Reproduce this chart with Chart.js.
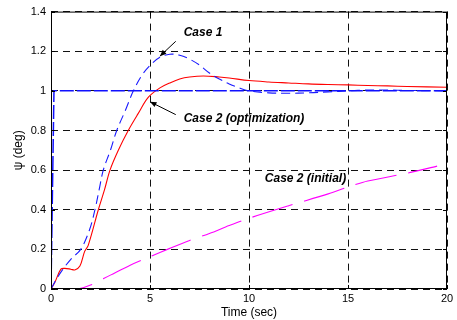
<!DOCTYPE html>
<html>
<head>
<meta charset="utf-8">
<script src="https://cdn.jsdelivr.net/npm/chart.js@4"></script>
<style>
  html, body { margin: 0; padding: 0; background: #fff; }
  #wrap { width: 457px; height: 320px; }
</style>
</head>
<body>
<div id="wrap"><canvas id="grafica" width="457" height="320"></canvas></div>
<script>
// valores
const tRef = [0, 0.15, 20];
const psiRef = [0, 1, 1];

const tCase1 = [0, 0.25, 0.57, 1.0, 1.5, 1.95, 2.22, 2.43, 2.64, 3.0, 3.32, 3.75, 4.16, 4.6, 5.08, 5.5, 6.0, 6.5, 7.0, 7.5, 8.0, 8.5, 9.0, 9.5, 10, 11, 12, 13, 14, 15, 16, 17, 18, 20];
const psiCase1 = [0, 0.045, 0.095, 0.15, 0.2, 0.3, 0.4, 0.5, 0.6, 0.7, 0.8, 0.9, 1.0, 1.08, 1.136, 1.17, 1.185, 1.18, 1.16, 1.13, 1.09, 1.06, 1.035, 1.015, 1.0, 0.99, 0.988, 0.99, 0.995, 1.0, 1.004, 1.004, 1.002, 1.0];

const tOpt = [0, 0.2, 0.5, 0.7, 1.0, 1.2, 1.46, 1.7, 1.88, 2.39, 2.7, 2.98, 3.4, 3.9, 4.4, 4.92, 5.5, 6.0, 6.5, 7.0, 7.7, 8.5, 9.0, 10, 11, 12, 13, 14, 15, 16, 17, 18, 20];
const psiOpt = [0, 0.035, 0.1, 0.104, 0.1, 0.096, 0.116, 0.19, 0.22, 0.4, 0.5, 0.6, 0.7, 0.8, 0.885, 0.968, 1.015, 1.04, 1.06, 1.07, 1.075, 1.07, 1.065, 1.052, 1.045, 1.04, 1.035, 1.032, 1.03, 1.027, 1.025, 1.022, 1.018];

const tIni = [0, 1.3, 2, 3, 4, 5, 6, 7, 8, 9, 10, 12, 14, 15, 16, 18, 19.5];
const psiIni = [0, 0, 0.02, 0.07, 0.12, 0.163, 0.205, 0.245, 0.28, 0.32, 0.357, 0.42, 0.48, 0.515, 0.545, 0.585, 0.62];

const xTicks = [0, 5, 10, 15, 20];
const yTicks = [0, 0.2, 0.4, 0.6, 0.8, 1, 1.2, 1.4];

const puntos = (xs, ys) => xs.map((x, i) => ({ x: x, y: ys[i] }));

// texto y flechas en coordenadas de datos
const notas = [
  { texto: 'Case 1', x: 6.7, y: 1.295, desde: [6.3, 1.25], hasta: [5.5, 1.175] },
  { texto: 'Case 2 (optimization)', x: 6.7, y: 0.861, desde: [6.3, 0.88], hasta: [5.0, 0.945] },
  { texto: 'Case 2 (initial)', x: 10.8, y: 0.555, desde: null, hasta: null }
];

const marcoYNotas = {
  id: 'marcoYNotas',
  afterDatasetsDraw(chart) {
    const { ctx, chartArea: a, scales } = chart;
    const sx = scales.x, sy = scales.y;
    ctx.save();
    // marco
    ctx.strokeStyle = '#000';
    ctx.lineWidth = 1;
    ctx.strokeRect(a.left + 0.5, a.top + 0.5, a.right - a.left - 1, a.bottom - a.top - 1);
    // marcas hacia dentro
    ctx.beginPath();
    xTicks.forEach(v => {
      const px = Math.round(sx.getPixelForValue(v)) + 0.5;
      ctx.moveTo(px, a.bottom); ctx.lineTo(px, a.bottom - 4);
      ctx.moveTo(px, a.top); ctx.lineTo(px, a.top + 4);
    });
    yTicks.forEach(v => {
      const py = Math.round(sy.getPixelForValue(v)) + 0.5;
      ctx.moveTo(a.left, py); ctx.lineTo(a.left + 4, py);
      ctx.moveTo(a.right, py); ctx.lineTo(a.right - 4, py);
    });
    ctx.stroke();
    // notas
    ctx.fillStyle = '#000';
    ctx.font = 'italic bold 12px "Liberation Sans", Arial, sans-serif';
    ctx.textBaseline = 'middle';
    notas.forEach(n => {
      ctx.fillText(n.texto, sx.getPixelForValue(n.x), sy.getPixelForValue(n.y));
      if (!n.desde) return;
      const x0 = sx.getPixelForValue(n.desde[0]), y0 = sy.getPixelForValue(n.desde[1]);
      const x1 = sx.getPixelForValue(n.hasta[0]), y1 = sy.getPixelForValue(n.hasta[1]);
      ctx.beginPath();
      ctx.moveTo(x0, y0); ctx.lineTo(x1, y1);
      ctx.stroke();
      const ang = Math.atan2(y1 - y0, x1 - x0);
      ctx.beginPath();
      ctx.moveTo(x1, y1);
      ctx.lineTo(x1 - 7 * Math.cos(ang - 0.4), y1 - 7 * Math.sin(ang - 0.4));
      ctx.lineTo(x1 - 7 * Math.cos(ang + 0.4), y1 - 7 * Math.sin(ang + 0.4));
      ctx.closePath();
      ctx.fill();
    });
    ctx.restore();
  }
};

const ctx = document.getElementById('grafica').getContext('2d');
new Chart(ctx, {
  type: 'scatter',
  data: {
    datasets: [
      {
        label: 'Reference',
        data: puntos(tRef, psiRef),
        showLine: true, pointRadius: 0,
        borderColor: '#1010ff', borderWidth: 1.5, borderDash: [14, 3]
      },
      {
        label: 'Case 1',
        data: puntos(tCase1, psiCase1),
        showLine: true, pointRadius: 0, tension: 0.35,
        borderColor: '#1a1aff', borderWidth: 1.1, borderDash: [9, 5]
      },
      {
        label: 'Case 2 (optimization)',
        data: puntos(tOpt, psiOpt),
        showLine: true, pointRadius: 0, tension: 0.35,
        borderColor: '#ff0000', borderWidth: 1.1
      },
      {
        label: 'Case 2 (initial)',
        data: puntos(tIni, psiIni),
        showLine: true, pointRadius: 0, tension: 0.3,
        borderColor: '#ff00ff', borderWidth: 1.1, borderDash: [42, 12]
      }
    ]
  },
  options: {
    responsive: false,
    animation: false,
    layout: { padding: { top: 11, right: 10, left: 11, bottom: 0 } },
    plugins: { legend: { display: false }, tooltip: { enabled: false } },
    scales: {
      x: {
        type: 'linear', min: 0, max: 20,
        afterBuildTicks: s => { s.ticks = xTicks.map(v => ({ value: v })); },
        afterFit: s => { s.height = 31; },
        grid: { color: '#111', lineWidth: 1, drawTicks: false },
        border: { display: false, dash: [7, 5] },
        ticks: { color: '#000', padding: 3, font: { family: '"Liberation Sans", Arial', size: 11 }, maxRotation: 0 },
        title: { display: true, text: 'Time (sec)', color: '#000', padding: 0, font: { family: '"Liberation Sans", Arial', size: 12 } }
      },
      y: {
        type: 'linear', min: 0, max: 1.4,
        afterBuildTicks: s => { s.ticks = yTicks.map(v => ({ value: v })); },
        afterFit: s => { s.width = 40; },
        grid: { color: '#111', lineWidth: 1, drawTicks: false },
        border: { display: false, dash: [7, 5] },
        ticks: { color: '#000', padding: 5, font: { family: '"Liberation Sans", Arial', size: 11 }, callback: v => String(+v.toFixed(1)) },
        title: { display: true, text: 'ψ (deg)', color: '#000', padding: 0, font: { family: '"Liberation Sans", Arial', size: 12 } }
      }
    }
  },
  plugins: [marcoYNotas]
});
</script>
</body>
</html>
